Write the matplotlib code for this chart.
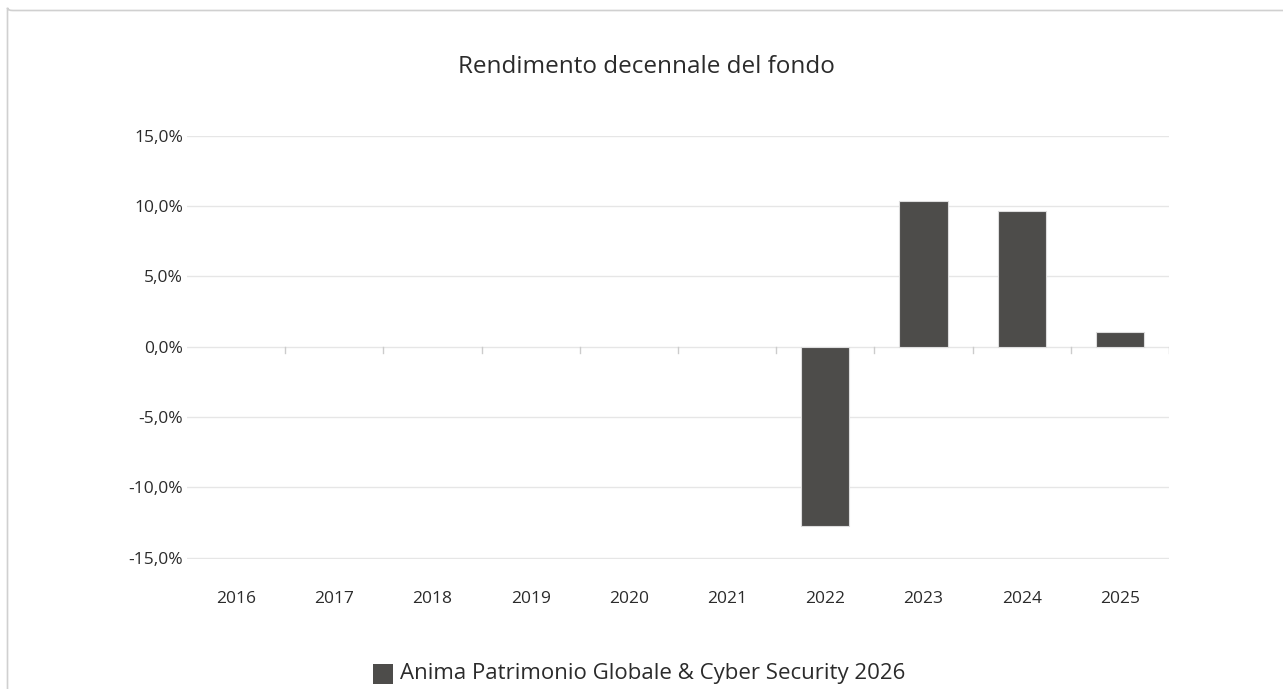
import matplotlib.pyplot as plt
from matplotlib.patches import FancyBboxPatch, Rectangle

years = ['2016', '2017', '2018', '2019', '2020', '2021', '2022', '2023', '2024', '2025']
returns = [None, None, None, None, None, None, -12.72, 10.33, 9.62, 1.02]
yticks = [-15, -10, -5, 0, 5, 10, 15]
series_name = 'Anima Patrimonio Globale & Cyber Security 2026'
title = 'Rendimento decennale del fondo'

plt.rcParams['font.family'] = ['Open Sans', 'DejaVu Sans']

W, H = 1283, 689
fig = plt.figure(figsize=(W / 100, H / 100), dpi=100)

# outer frame (rounded, cut off at right and bottom)
frame = FancyBboxPatch((7.5 / W, 1 - 10.5 / H), 1.2, -1.2, boxstyle='round,pad=0,rounding_size=0.004',
                       transform=fig.transFigure, fill=False, edgecolor='#d0d0d0', lw=1.2)
fig.patches.append(frame)

# axes: 15% at y=135.5, -15.1% at ~559
ax = fig.add_axes([187 / W, 1 - 559 / H, (1169 - 187) / W, (559 - 135.5) / H])
ax.set_xlim(-0.5, len(years) - 0.5)
ax.set_ylim(-15.1, 15)

for s in ax.spines.values():
    s.set_visible(False)
ax.set_yticks(yticks)
ax.set_yticklabels([f'{v:.1f}%'.replace('.', ',') for v in yticks])
ax.yaxis.grid(True, color='#e6e6e6', lw=1)
ax.set_axisbelow(True)
ax.tick_params(axis='y', length=0, pad=3, labelsize=12.5, labelcolor='#2b2b2b')
ax.set_xticks(range(len(years)))
ax.set_xticklabels(years)
ax.tick_params(axis='x', length=0, pad=23, labelsize=12.5, labelcolor='#2b2b2b')

# small category ticks on the zero line
for k in range(1, len(years) + 1):
    ax.plot([k - 0.5, k - 0.5], [0, -0.45], color='#cccccc', lw=1, zorder=1)

xs = [i for i, v in enumerate(returns) if v is not None]
vals = [v for v in returns if v is not None]
ax.bar(xs, vals, width=0.49, color='#4d4c4a', edgecolor='#dddddd', lw=0.8, zorder=3)

fig.text(646 / W, 1 - 67 / H, title, ha='center', va='center', fontsize=17.5, color='#2b2b2b')

# legend
fig.patches.append(Rectangle((373 / W, 1 - 684 / H), 20 / W, 20 / H, transform=fig.transFigure,
                             facecolor='#4d4c4a', edgecolor='none'))
fig.text(400 / W, 1 - 674 / H, series_name, ha='left', va='center', fontsize=16, color='#2b2b2b')

fig.savefig('out.png', dpi=100)
